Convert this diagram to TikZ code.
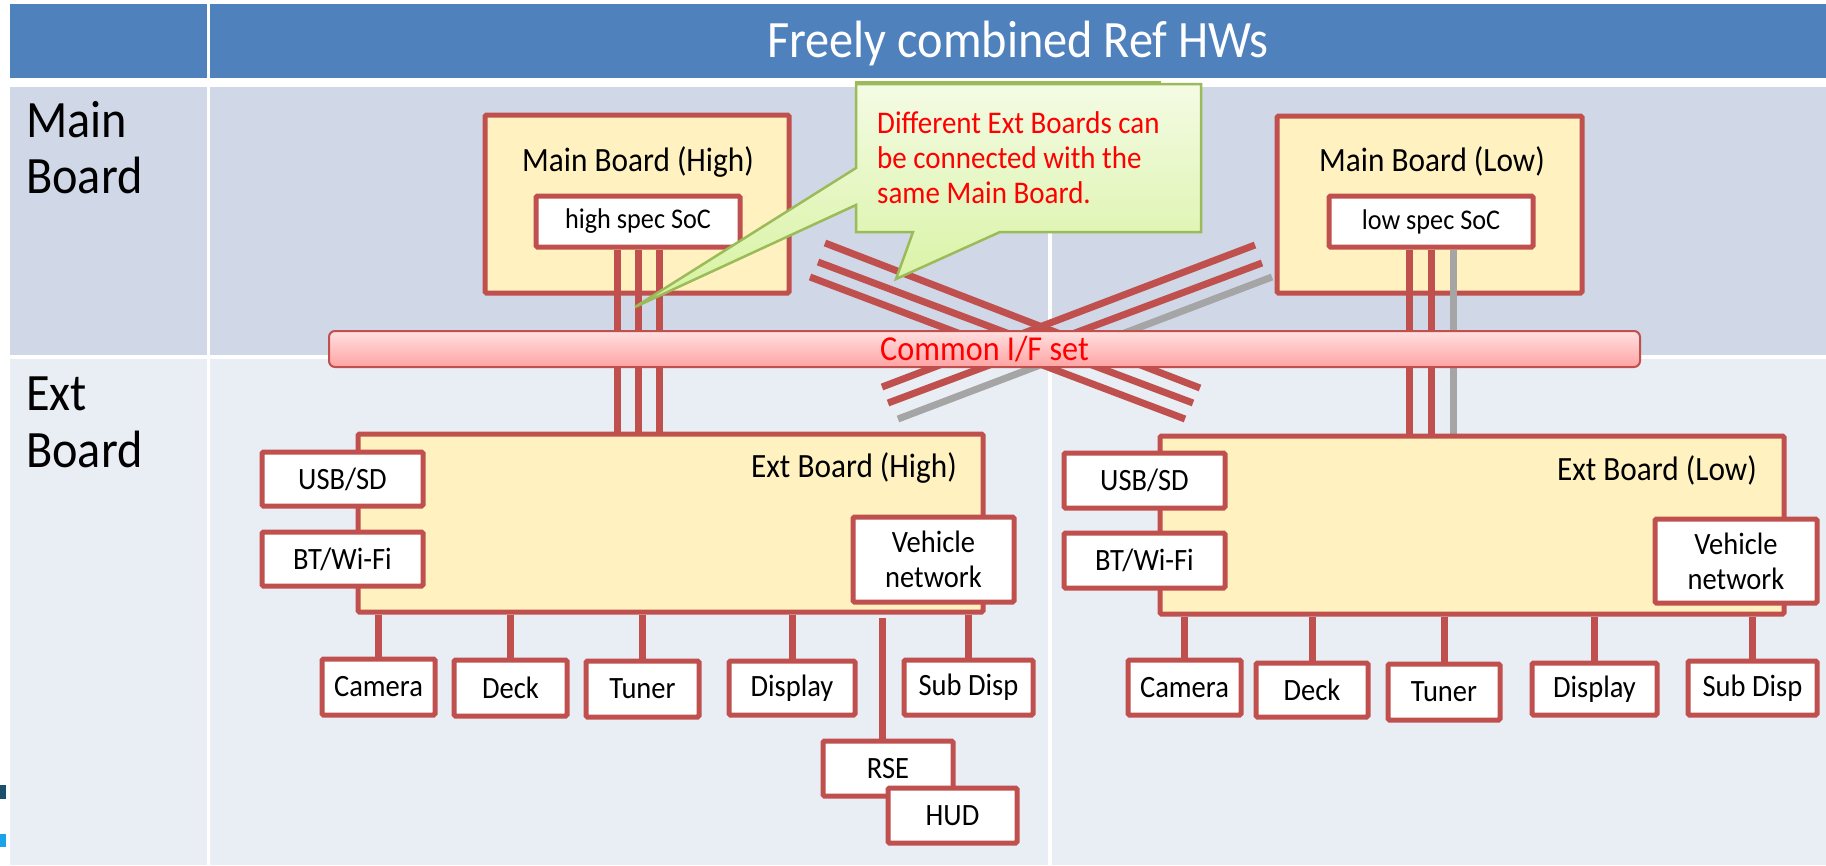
\documentclass[tikz,border=0pt]{standalone}
\usepackage{fontspec}
\setmainfont{Carlito}[FakeStretch=0.92]
\usetikzlibrary{calc}
\definecolor{bred}{HTML}{C0504D}
\definecolor{byel}{HTML}{FFF2C0}
\definecolor{hblue}{HTML}{4F81BD}
\definecolor{rowa}{HTML}{D0D8E8}
\definecolor{rowb}{HTML}{E9EDF4}
\definecolor{lgray}{HTML}{A5A5A5}
\definecolor{cgreen}{HTML}{9BBB59}
\definecolor{ctop}{HTML}{F4FBE4}
\definecolor{cbot}{HTML}{D6F29E}
\definecolor{ptop}{HTML}{FFE0E0}
\definecolor{pbot}{HTML}{FFA3A3}
\definecolor{mdark}{HTML}{1B4F6B}
\definecolor{mblue}{HTML}{1AA3E8}
\begin{document}
\begin{tikzpicture}[x=1pt,y=-1pt,
  comp/.style={draw=bred, line width=5pt, fill=white, rounded corners=1.5pt, inner sep=0pt, font=\fontsize{31}{35}\selectfont},
  board/.style={draw=bred, line width=5pt, fill=byel, rounded corners=1.5pt, inner sep=0pt},
  redline/.style={draw=bred, line width=7pt},
  grayline/.style={draw=lgray, line width=7pt},
  ttl/.style={inner sep=0pt, font=\fontsize{34}{40}\selectfont},
  big/.style={inner sep=0pt, font=\fontsize{52.5}{60}\selectfont},
  note/.style={inner sep=0pt, text=red, font=\fontsize{31.5}{36}\selectfont},
  callout/.style={draw=cgreen, line width=2.5pt, top color=ctop, bottom color=cbot},
]
\useasboundingbox (0,0) rectangle (1826,865);
% table
\fill[white] (0,0) rectangle (1826,865);
\fill[hblue] (10,4) rectangle (207,78);
\fill[hblue] (210,4) rectangle (1826,78);
\fill[rowa] (10,87) rectangle (207,355);
\fill[rowa] (210,87) rectangle (1048,355);
\fill[rowa] (1052,87) rectangle (1826,355);
\fill[rowb] (10,359) rectangle (207,865);
\fill[rowb] (210,359) rectangle (1048,865);
\fill[rowb] (1052,359) rectangle (1826,865);
\fill[mdark] (0,785) rectangle (6,799);
\fill[mblue] (0,834) rectangle (6,847);
\node[big, anchor=base, text=white] (hdr) at (1018,57) {Freely combined Ref HWs};
\node[big, anchor=base west] (lmain1) at (26,137) {Main};
\node[big, anchor=base west] (lmain2) at (26,193) {Board};
\node[big, anchor=base west] (lext1) at (26,410) {Ext};
\node[big, anchor=base west] (lext2) at (26,467) {Board};
% cross lines
\coordinate (d1a) at (825,243); \coordinate (d1b) at (1200,388);
\coordinate (d2a) at (818,262); \coordinate (d2b) at (1193,403);
\coordinate (d3a) at (810,277); \coordinate (d3b) at (1185,419);
\coordinate (a1a) at (1255,245); \coordinate (a1b) at (882,387);
\coordinate (a2a) at (1262,263); \coordinate (a2b) at (888,403);
\coordinate (a3a) at (1272,277); \coordinate (a3b) at (898,419);
\draw[redline] (d1a) -- (d1b);
\draw[redline] (d2a) -- (d2b);
\draw[redline] (d3a) -- (d3b);
\draw[redline] (a1a) -- (a1b);
\draw[redline] (a2a) -- (a2b);
\draw[grayline] (a3a) -- (a3b);
% main boards
\node[board, minimum width=304pt, minimum height=178pt] (mbH) at (637,204) {};
\node[ttl, anchor=base] (tmbH) at (638,171) {Main Board (High)};
\node[comp, minimum width=204pt, minimum height=51pt, font=\fontsize{28.5}{32}\selectfont] (socH) at (638,221.5) {high spec SoC};
\node[board, minimum width=305pt, minimum height=177pt] (mbL) at (1429.5,204.5) {};
\node[ttl, anchor=base] (tmbL) at (1432,171) {Main Board (Low)};
\node[comp, minimum width=204pt, minimum height=51pt, font=\fontsize{28.5}{32}\selectfont] (socL) at (1431,221.5) {low spec SoC};
% vertical links
\coordinate (ebHtop) at (670.5,434);
\coordinate (ebLtop) at (1472,436);
\coordinate (h1) at ([xshift=-21pt]socH.south);
\coordinate (h2) at (socH.south);
\coordinate (h3) at ([xshift=21pt]socH.south);
\coordinate (l1) at ([xshift=-22pt]socL.south);
\coordinate (l2) at (socL.south);
\coordinate (l3) at ([xshift=22pt]socL.south);
\draw[redline] (h1) -- (h1 |- ebHtop);
\draw[redline] (h2) -- (h2 |- ebHtop);
\draw[redline] (h3) -- (h3 |- ebHtop);
\draw[redline] (l1) -- (l1 |- ebLtop);
\draw[redline] (l2) -- (l2 |- ebLtop);
\draw[grayline] (l3) -- (l3 |- ebLtop);
% common bar
\node[draw=bred, line width=2pt, rounded corners=6pt, top color=ptop, bottom color=pbot, minimum width=1311pt, minimum height=36pt, inner sep=0pt, text=red, font=\fontsize{35}{40}\selectfont] (cif) at (984.5,349) {Common I/F set};
% ext boards
\node[board, minimum width=625pt, minimum height=178pt] (ebH) at (670.5,523) {};
\node[ttl, anchor=base east] (tebH) at (957,477) {Ext Board (High)};
\node[board, minimum width=624pt, minimum height=178pt] (ebL) at (1472,525) {};
\node[ttl, anchor=base east] (tebL) at (1757,480) {Ext Board (Low)};
% side components
\node[comp, minimum width=161pt, minimum height=54pt] (usbH) at (342.5,479) {USB/SD};
\node[comp, minimum width=161pt, minimum height=54pt] (btH) at (342.5,559) {BT/Wi-Fi};
\node[comp, minimum width=161pt, minimum height=85pt, align=center] (vnH) at (933.5,559.5) {Vehicle\\network};
\node[comp, minimum width=161pt, minimum height=55pt] (usbL) at (1144.5,480.5) {USB/SD};
\node[comp, minimum width=161pt, minimum height=55pt] (btL) at (1144.5,560.5) {BT/Wi-Fi};
\node[comp, minimum width=162pt, minimum height=84pt, align=center] (vnL) at (1736,561) {Vehicle\\network};
% bottom components high
\node[comp, minimum width=113pt, minimum height=56pt] (camH) at (378.5,687) {Camera};
\node[comp, minimum width=113pt, minimum height=56pt] (deckH) at (510.5,688) {Deck};
\node[comp, minimum width=113pt, minimum height=56pt] (tunH) at (642.5,689) {Tuner};
\node[comp, minimum width=126pt, minimum height=54pt] (dispH) at (792,688) {Display};
\node[comp, minimum width=129pt, minimum height=55pt] (subH) at (968.5,687.5) {Sub Disp};
\node[comp, minimum width=130pt, minimum height=55pt] (rse) at (888,768.5) {RSE};
\node[comp, minimum width=129pt, minimum height=55pt] (hud) at (952.5,815.5) {HUD};
% bottom components low
\node[comp, minimum width=113pt, minimum height=55pt] (camL) at (1184.5,687.5) {Camera};
\node[comp, minimum width=112pt, minimum height=54pt] (deckL) at (1312,690) {Deck};
\node[comp, minimum width=112pt, minimum height=56pt] (tunL) at (1444,692) {Tuner};
\node[comp, minimum width=125pt, minimum height=52pt] (dispL) at (1594.5,689) {Display};
\node[comp, minimum width=129pt, minimum height=54pt] (subL) at (1752.5,688) {Sub Disp};
% connectors
\foreach \n in {camH,deckH,tunH,dispH,subH}{\draw[redline] (\n.north) -- (\n.north |- ebH.south);}
\foreach \n in {camL,deckL,tunL,dispL,subL}{\draw[redline] (\n.north) -- (\n.north |- ebL.south);}
\coordinate (rsetop) at (882,618);
\draw[redline] (rsetop) -- (rsetop |- rse.north);
% callout
\path[callout] (856,82) rectangle (1160,228);
\path[callout] (856,84) -- (1201,84) -- (1201,232) -- (1000,232) -- (896,279) -- (913,232) -- (856,232) -- (856,205) -- (635,307) -- (856,168) -- cycle;
\node[note, anchor=base west] (n1) at (877,133) {Different Ext Boards can};
\node[note, anchor=base west] (n2) at (877,168) {be connected with the};
\node[note, anchor=base west] (n3) at (877,203) {same Main Board.};
\end{tikzpicture}
\end{document}
